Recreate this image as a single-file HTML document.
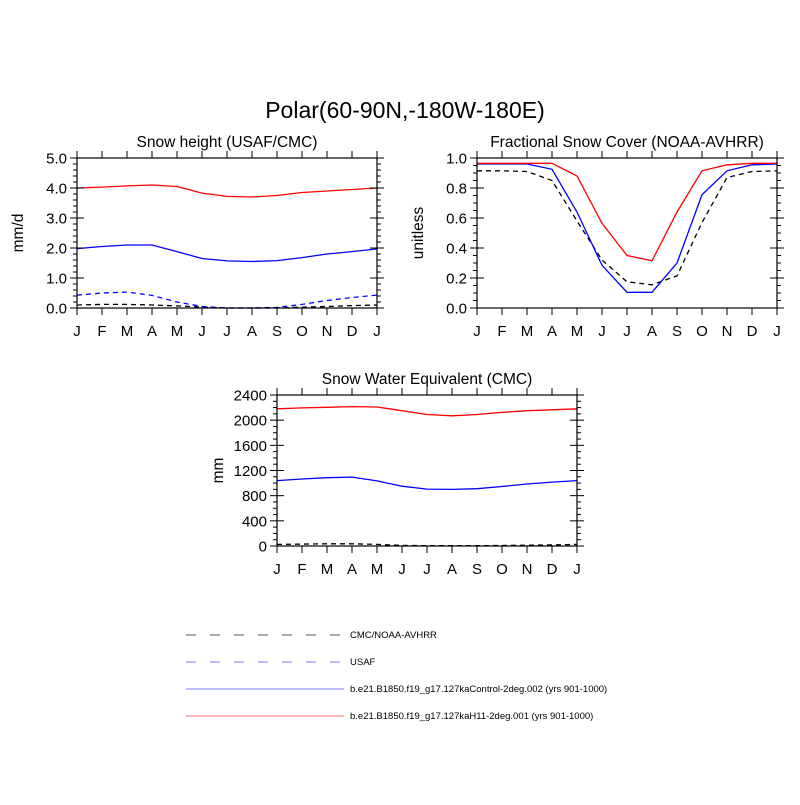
<!DOCTYPE html>
<html><head><meta charset="utf-8">
<style>
html,body{margin:0;padding:0;background:#fff;}
svg text{font-family:"Liberation Sans",Helvetica,Arial,sans-serif;fill:#000;}
</style></head>
<body>
<svg id="root" width="800" height="800" viewBox="0 0 800 800" xmlns="http://www.w3.org/2000/svg">
<rect width="800" height="800" fill="#fff"/>
<text x="405" y="118" font-size="23" text-anchor="middle">Polar(60-90N,-180W-180E)</text>
<g id="legend">
  <g>
    <line x1="186" y1="635" x2="344" y2="635" stroke="#555" stroke-width="1" stroke-dasharray="10,14"/>
    <text x="350" y="638" font-size="9.5">CMC/NOAA-AVHRR</text>
  </g>
  <g>
    <line x1="186" y1="662" x2="344" y2="662" stroke="#7777ff" stroke-width="1" stroke-dasharray="10,14"/>
    <text x="350" y="665" font-size="9.5">USAF</text>
  </g>
  <g>
    <line x1="186" y1="689" x2="344" y2="689" stroke="#7777ff" stroke-width="1"/>
    <text x="350" y="692" font-size="9.5">b.e21.B1850.f19_g17.127kaControl-2deg.002 (yrs 901-1000)</text>
  </g>
  <g>
    <line x1="186" y1="716" x2="344" y2="716" stroke="#ff7777" stroke-width="1"/>
    <text x="350" y="719" font-size="9.5">b.e21.B1850.f19_g17.127kaH11-2deg.001 (yrs 901-1000)</text>
  </g>
</g>
</svg>
<script>
const months = ["J","F","M","A","M","J","J","A","S","O","N","D","J"];
// Panel 1: snow height
const p1Ticks = ["0.0","1.0","2.0","3.0","4.0","5.0"];
const p1Red = [4.0,4.03,4.07,4.1,4.05,3.83,3.72,3.7,3.75,3.85,3.9,3.95,4.0];
const p1Blue = [1.98,2.05,2.1,2.1,1.88,1.65,1.57,1.55,1.58,1.68,1.8,1.88,1.97];
const p1BlueDash = [0.43,0.5,0.53,0.42,0.2,0.05,0.0,0.0,0.02,0.12,0.25,0.35,0.43];
const p1BlackDash = [0.1,0.12,0.12,0.1,0.07,0.03,0.0,0.0,0.0,0.03,0.05,0.08,0.1];
// Panel 2: fractional snow cover
const p2Ticks = ["0.0","0.2","0.4","0.6","0.8","1.0"];
const p2Red = [0.965,0.965,0.965,0.965,0.88,0.565,0.35,0.315,0.64,0.915,0.955,0.965,0.965];
const p2Blue = [0.96,0.96,0.96,0.925,0.64,0.285,0.105,0.105,0.3,0.755,0.915,0.955,0.96];
const p2BlackDash = [0.915,0.915,0.91,0.85,0.58,0.32,0.175,0.155,0.215,0.57,0.87,0.91,0.915];
// Panel 3: SWE
const p3Ticks = ["0","400","800","1200","1600","2000","2400"];
const p3Red = [2180,2195,2205,2215,2210,2150,2090,2070,2090,2125,2150,2165,2180];
const p3Blue = [1040,1065,1085,1095,1035,950,905,900,910,945,985,1015,1040];
const p3BlackDash = [25,30,35,35,25,10,5,5,5,8,12,18,25];

const NS="http://www.w3.org/2000/svg";
const root=document.getElementById('root');
function mk(tag,attrs,parent){const e=document.createElementNS(NS,tag);for(const k in attrs)e.setAttribute(k,attrs[k]);parent.appendChild(e);return e;}

function panel(cfg){
  const g=mk('g',{},root);
  
  
  const {x0,y0,w,h,ymax,minor}=cfg;
  const xs=i=>x0+i*w/(months.length-1);
  const ys=v=>y0+h-v/ymax*h;
  const t=mk('text',{x:x0+w/2,y:y0-11,'font-size':15.5,'text-anchor':'middle'},g);
  t.textContent=cfg.title;
  
  
  const yl=mk('text',{x:0,y:0,'font-size':15.5,'text-anchor':'middle',transform:`translate(${x0-54},${y0+h/2}) rotate(-90)`},g);
  yl.textContent=cfg.ylabel;
  
  
  cfg.series.forEach(s=>{
    const d=s.data.map((v,i)=>(i?'L':'M')+xs(i).toFixed(1)+','+ys(v).toFixed(1)).join('');
    const p=mk('path',{d:d,fill:'none',stroke:s.color,'stroke-width':1.3},g);
    if(s.dash)p.setAttribute('stroke-dasharray','5,4');
    
    
  });
  mk('rect',{x:x0,y:y0,width:w,height:h,fill:'none',stroke:'#000','stroke-width':1.2},g);
  months.forEach((m,i)=>{
    const x=xs(i);
    mk('line',{x1:x,y1:y0+h,x2:x,y2:y0+h+7,stroke:'#000','stroke-width':1},g);
    mk('line',{x1:x,y1:y0,x2:x,y2:y0-7,stroke:'#000','stroke-width':1},g);
    const tl=mk('text',{x:x,y:y0+h+28,'font-size':15,'text-anchor':'middle'},g);
    tl.textContent=m;
    
    
  });
  const n=cfg.ticks.length-1;
  for(let k=0;k<=n;k++){
    const y=y0+h-k*h/n;
    mk('line',{x1:x0-7,y1:y,x2:x0+7,y2:y,stroke:'#000','stroke-width':1},g);
    mk('line',{x1:x0+w-7,y1:y,x2:x0+w+7,y2:y,stroke:'#000','stroke-width':1},g);
    const tl=mk('text',{x:x0-10,y:y+5.5,'font-size':15,'text-anchor':'end'},g);
    tl.textContent=cfg.ticks[k];
    
    
    if(k<n){for(let j=1;j<minor;j++){const ym=y-j*h/n/minor;
      mk('line',{x1:x0-4,y1:ym,x2:x0,y2:ym,stroke:'#000','stroke-width':1},g);
      mk('line',{x1:x0+w,y1:ym,x2:x0+w+4,y2:ym,stroke:'#000','stroke-width':1},g);}}
  }
}
panel({name:'snow-height-panel',title:'Snow height (USAF/CMC)',ylabel:'mm/d',x0:77,y0:158,w:300,h:150,ymax:5,minor:5,ticks:p1Ticks,
  series:[{name:'cmc-line',data:p1BlackDash,color:'#000',dash:true},{name:'usaf-line',data:p1BlueDash,color:'#0000ff',dash:true},
          {name:'control-line',data:p1Blue,color:'#0000ff'},{name:'h11-line',data:p1Red,color:'#ff0000'}]});
panel({name:'snow-cover-panel',title:'Fractional Snow Cover (NOAA-AVHRR)',ylabel:'unitless',x0:477,y0:158,w:300,h:150,ymax:1,minor:4,ticks:p2Ticks,
  series:[{name:'noaa-line',data:p2BlackDash,color:'#000',dash:true},
          {name:'control-line',data:p2Blue,color:'#0000ff'},{name:'h11-line',data:p2Red,color:'#ff0000'}]});
panel({name:'swe-panel',title:'Snow Water Equivalent (CMC)',ylabel:'mm',x0:277,y0:395,w:300,h:151,ymax:2400,minor:4,ticks:p3Ticks,
  series:[{name:'cmc-line',data:p3BlackDash,color:'#000',dash:true},
          {name:'control-line',data:p3Blue,color:'#0000ff'},{name:'h11-line',data:p3Red,color:'#ff0000'}]});
</script>
</body></html>
